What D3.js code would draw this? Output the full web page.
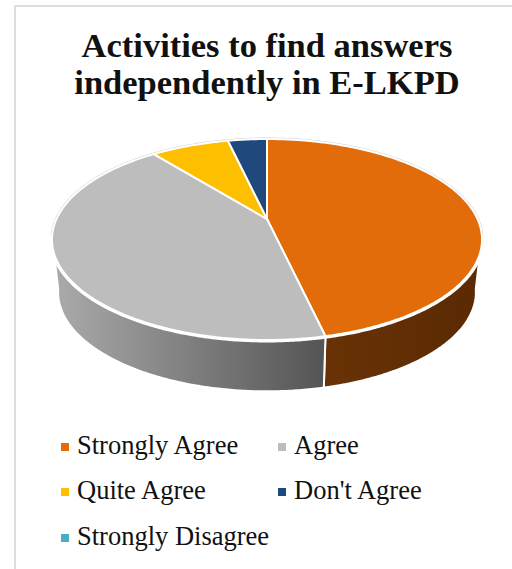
<!DOCTYPE html>
<html>
  <head>
    <meta charset="utf-8">
    <script src="https://d3js.org/d3.v7.min.js"></script>
    <style>
      html, body { margin: 0; padding: 0; background: #fff; }
      svg { display: block; }
      text { font-family: "Liberation Serif", serif; fill: #111; }
    </style>
  </head>
  <body>
    <script>
      var titleLines = ["Activities to find answers", "independently in E-LKPD"];
      var categories = ["Strongly Agree", "Agree", "Quite Agree", "Don't Agree", "Strongly Disagree"];
      var values = [13, 12, 2, 1, 0];
      var colors = ["#e26b0a", "#bdbdbd", "#fdbf00", "#1f497d", "#4bacc6"];

      var width = 512, height = 569;

      var svg = d3.select("body").append("svg")
        .attr("width", width)
        .attr("height", height);

      // card border, only top and left show in the picture
      svg.append("path")
        .attr("d", "M15,569V6H512")
        .attr("fill", "none")
        .attr("stroke", "#dedede")
        .attr("stroke-width", 2);

      // title
      svg.selectAll("text.title")
        .data(titleLines)
        .enter().append("text")
        .attr("class", "title")
        .attr("x", 267)
        .attr("y", function (d, i) { return 57 + i * 37; })
        .attr("text-anchor", "middle")
        .style("font-size", "34.5px")
        .style("font-weight", "bold")
        .text(function (d) { return d; });

      // perspective of the tilted disc: the apex sits above the ellipse middle
      var k = 0.204;
      function project(angle, plane) {
        var u = Math.sin(angle), v = -Math.cos(angle), w = 1 - k * v;
        return [plane.cx + plane.a * u / w, plane.cy + plane.b * v / w];
      }
      var topPlane = { cx: 267, cy: 219, a: 210.5, b: 96.3 };
      var bottomPlane = { cx: 267, cy: 272, a: 204.5, b: 95 };

      var pie = d3.pie().sort(null)(values);
      var front = [100 * Math.PI / 180, 260 * Math.PI / 180];

      function rim(a0, a1, plane) {
        var n = Math.max(2, Math.ceil((a1 - a0) / 0.01));
        return d3.range(n + 1).map(function (i) {
          return project(a0 + (a1 - a0) * i / n, plane);
        });
      }
      var line = d3.line();

      // side shading
      var defs = svg.append("defs");
      function sideGradient(id, x1, x2, c1, c2) {
        var g = defs.append("linearGradient").attr("id", id)
          .attr("gradientUnits", "userSpaceOnUse")
          .attr("x1", x1).attr("x2", x2).attr("y1", 0).attr("y2", 0);
        g.append("stop").attr("offset", 0).attr("stop-color", c1);
        g.append("stop").attr("offset", 1).attr("stop-color", c2);
      }
      sideGradient("side0", 322, 480, "#693206", "#5a2a03");
      sideGradient("side1", 55, 322, "#aaaaaa", "#555555");

      // faint outer edge
      svg.append("path")
        .attr("d", line(rim(0, 2 * Math.PI, topPlane)))
        .attr("fill", "none")
        .attr("stroke", "#d4d4d4")
        .attr("stroke-width", 3);

      // side walls
      pie.forEach(function (d, i) {
        var a0 = Math.max(d.startAngle, front[0]), a1 = Math.min(d.endAngle, front[1]);
        if (a1 <= a0) return;
        var pts = rim(a0, a1, topPlane).concat(rim(a0, a1, bottomPlane).reverse());
        svg.append("path")
          .attr("d", line(pts) + "Z")
          .attr("fill", "url(#side" + i + ")")
          .attr("stroke", "#fff")
          .attr("stroke-width", 2)
          .attr("stroke-linejoin", "round");
      });

      // the front edge of the top face carries a heavier white line
      svg.append("path")
        .attr("d", line(rim(front[0], front[1], topPlane)))
        .attr("fill", "none")
        .attr("stroke", "#fff")
        .attr("stroke-width", 5);

      // top face
      pie.forEach(function (d, i) {
        if (d.value === 0) return;
        var pts = [[topPlane.cx, topPlane.cy]].concat(rim(d.startAngle, d.endAngle, topPlane));
        svg.append("path")
          .attr("d", line(pts) + "Z")
          .attr("fill", colors[i])
          .attr("stroke", "#fff")
          .attr("stroke-width", 2)
          .attr("stroke-linejoin", "round");
      });

      // legend, two columns
      var legendX = [61, 278], legendY = [447, 492, 538];
      var item = svg.selectAll("g.legend")
        .data(categories)
        .enter().append("g")
        .attr("class", "legend")
        .attr("transform", function (d, i) {
          return "translate(" + legendX[i < 4 ? i % 2 : 0] + "," + legendY[Math.floor(i / 2)] + ")";
        });
      item.append("rect")
        .attr("y", -4)
        .attr("width", 8)
        .attr("height", 8)
        .attr("fill", function (d, i) { return colors[i]; });
      item.append("text")
        .attr("x", 16)
        .attr("y", 7)
        .style("font-size", "26.5px")
        .text(function (d) { return d; });
    </script>
  </body>
</html>
